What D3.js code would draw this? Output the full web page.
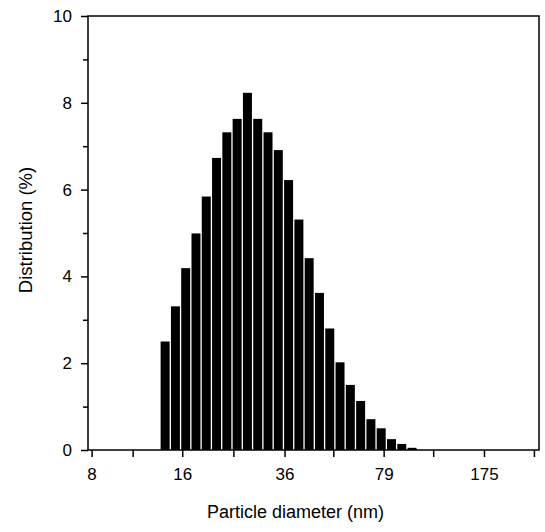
<!DOCTYPE html>
<html>
<head>
<meta charset="utf-8">
<script src="https://cdn.jsdelivr.net/npm/d3@7"></script>
<style>
  body { margin: 0; background: #fff; }
  text { font-family: "Liberation Sans", Arial, sans-serif; fill: #000; }
</style>
</head>
<body>
<script>
// size-class edges (nm), one more than the bars
var binEdges = [13.48, 14.63, 15.87, 17.22, 18.68, 20.27, 21.99, 23.86, 25.89, 28.09,
  30.48, 33.07, 35.88, 38.93, 42.24, 45.83, 49.72, 53.95, 58.53, 63.51,
  68.91, 74.76, 81.12, 88.01, 95.49, 103.6];
// distribution (%) per class
var distValues = [2.50, 3.31, 4.19, 4.99, 5.84, 6.73, 7.32, 7.63, 8.23, 7.63,
  7.32, 6.91, 6.22, 5.31, 4.42, 3.62, 2.80, 2.02, 1.50, 1.13,
  0.71, 0.50, 0.25, 0.14, 0.05];
var xTickValues = [7.8, 10.8, 16, 24, 36, 53, 79, 117, 175, 260];
var xTickLabels = ["8", "", "16", "", "36", "", "79", "", "175", ""];
var yTickValues = [0, 1, 2, 3, 4, 5, 6, 7, 8, 9, 10];

var W = 545, H = 532;
var plotL = 88, plotR = 539, plotT = 16, plotB = 450;

var svg = d3.select("body").append("svg")
  .attr("width", W).attr("height", H);

var x = d3.scaleLog().domain([7.58, 270.7]).range([plotL, plotR]);
var y = d3.scaleLinear().domain([0, 10]).range([plotB, plotT]);

var bins = distValues.map(function (v, i) {
  return { x0: binEdges[i], x1: binEdges[i + 1], v: v };
});

svg.append("g").selectAll("rect").data(bins).enter().append("rect")
  .attr("x", function (d) { return x(d.x0); })
  .attr("width", function (d) { return x(d.x1) - x(d.x0) - 1.3; })
  .attr("y", function (d) { return y(d.v); })
  .attr("height", function (d) { return y(0) - y(d.v); })
  .style("fill", "#000");

// frame
svg.append("rect")
  .attr("x", plotL).attr("y", plotT)
  .attr("width", plotR - plotL).attr("height", plotB - plotT)
  .style("fill", "none").style("stroke", "#000").style("stroke-width", 1.5);

// x axis
var xAxis = svg.append("g").attr("transform", "translate(0," + plotB + ")")
  .call(d3.axisBottom(x).tickValues(xTickValues)
    .tickFormat(function (d, i) { return xTickLabels[i]; })
    .tickSize(7).tickPadding(11));
xAxis.select(".domain").remove();
xAxis.selectAll("line").style("stroke-width", 1.5);
xAxis.selectAll("text").style("font-size", "17px").style("font-family", "Liberation Sans, Arial, sans-serif");

// y axis
var yAxis = svg.append("g").attr("transform", "translate(" + plotL + ",0)")
  .call(d3.axisLeft(y).tickValues(yTickValues)
    .tickFormat(function (d) { return d % 2 === 0 ? d : ""; })
    .tickSize(7).tickPadding(9));
yAxis.select(".domain").remove();
yAxis.selectAll("line").style("stroke-width", 1.5)
  .attr("x2", function (d) { return d % 2 === 0 ? -7 : -5; });
yAxis.selectAll("text").style("font-size", "17px").style("font-family", "Liberation Sans, Arial, sans-serif");

// titles
svg.append("text")
  .attr("x", (plotL + plotR) / 2 - 18).attr("y", 518)
  .attr("text-anchor", "middle")
  .style("font-size", "18px")
  .text("Particle diameter (nm)");

svg.append("text")
  .attr("transform", "translate(32,230) rotate(-90)")
  .attr("text-anchor", "middle")
  .style("font-size", "18.5px")
  .text("Distribution (%)");
</script>
</body>
</html>
